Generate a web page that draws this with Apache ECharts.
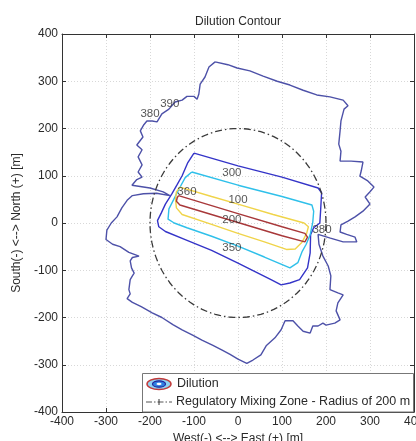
<!DOCTYPE html>
<html>
<head>
<meta charset="utf-8">
<title>Dilution Contour</title>
<script src="https://cdn.jsdelivr.net/npm/echarts@6/dist/echarts.min.js"></script>
<style>
  html, body { margin: 0; padding: 0; background: #fff; overflow: hidden; }
  #chart { width: 416px; height: 441px; }
</style>
</head>
<body>
<div id="chart"></div>
<script>
// Axis ticks (metres from the outfall)
const axisTicks = [-400, -300, -200, -100, 0, 100, 200, 300, 400];

// Dilution contour lines, [east, north] in metres
const contour390 = [
  [-52,341],[-23,335],[-2,328],[27,322],[57,311],[89,300],[118,292],[148,281],[179,271],[209,267],[239,260],[250,248],
  [241,241],[234,216],[232,195],[229,167],[234,152],[232,131],[257,131],[284,129],[280,110],[277,99],[295,89],[309,76],
  [300,66],[289,55],[300,40],[284,25],[266,13],[250,4],[234,-4],[232,-19],[247,-24],[266,-30],[270,-40],[239,-40],
  [210,-32],[182,-24],[184,-45],[193,-70],[205,-91],[211,-112],[209,-141],[227,-148],[239,-152],[227,-169],[223,-186],
  [232,-205],[220,-212],[200,-216],[193,-212],[182,-218],[170,-218],[164,-233],[148,-229],[136,-218],[125,-207],
  [107,-207],[98,-226],[84,-243],[64,-260],[52,-279],[34,-290],[20,-297],[0,-288],[-18,-278],[-36,-269],[-57,-259],
  [-82,-248],[-102,-238],[-127,-226],[-148,-215],[-173,-200],[-195,-190],[-220,-177],[-240,-168],[-252,-160],
  [-245,-150],[-248,-141],[-245,-120],[-240,-112],[-236,-106],[-242,-95],[-245,-80],[-240,-73],[-225,-70],[-248,-62],
  [-268,-50],[-285,-45],[-300,-35],[-298,-15],[-288,0],[-275,13],[-264,32],[-252,48],[-240,58],[-215,62],[-185,63],
  [-155,58],[-170,66],[-200,74],[-241,80],[-230,92],[-218,97],[-227,108],[-218,123],[-227,140],[-218,155],[-230,165],
  [-216,182],[-222,195],[-214,208],[-207,216],[-195,216],[-184,214],[-173,231],[-157,241],[-143,256],[-127,260],
  [-116,268],[-100,268],[-93,262],[-89,273],[-86,294],[-75,309],[-66,330],[-52,341]
];
const contour350 = [
  [-100,148],[0,121],[100,97],[182,74],[190,64],[188,30],[186,0],[172,-10],[165,-25],[164,-63],[158,-95],[140,-120],
  [118,-127],[98,-131],[75,-120],[0,-85],[-60,-58],[-120,-35],[-165,-18],[-180,-8],[-183,5],[-174,22],[-165,40],
  [-150,62],[-139,80],[-127,100],[-114,128],[-100,148]
];
const contour300 = [
  [-105,108],[0,80],[100,56],[168,38],[172,25],[170,2],[164,-25],[155,-45],[146,-60],[136,-84],[118,-95],[60,-72],
  [0,-49],[-60,-28],[-116,-10],[-145,0],[-159,8],[-157,30],[-146,50],[-134,72],[-120,96],[-105,108]
];
const contour200 = [
  [-132,76],[-60,56],[0,40],[80,18],[150,0],[160,-8],[156,-22],[146,-40],[130,-55],[110,-56],[60,-40],[0,-22],
  [-60,-3],[-127,18],[-140,32],[-142,50],[-140,66],[-132,76]
];
const contour100 = [
  [-135,58],[0,20],[100,-8],[152,-22],[158,-30],[152,-40],[100,-27],[0,1],[-132,38],[-140,46],[-138,54],[-135,58]
];

// Contour level labels, [east, north, text]
const contourLabels = [
  [-200,231,'380'],[-155,252,'390'],[-14,106,'300'],[0,49,'100'],[-14,6,'200'],
  [-14,-53,'350'],[-116,66,'360'],[191,-15,'380']
];

// Regulatory mixing zone
const mixingZoneRadius = 200;
const mixingZone = [];
for (let d = 0; d <= 360; d += 3) {
  const a = d * Math.PI / 180;
  mixingZone.push([mixingZoneRadius * Math.cos(a), mixingZoneRadius * Math.sin(a)]);
}

const FONT = 'Liberation Sans, Arial, sans-serif';
const TXT = '#2a2a2a';

function contourSeries(data, color, width) {
  return {
    type: 'line', name: 'Dilution', data: data, symbol: 'none', silent: true,
    lineStyle: { color: color, width: width }, z: 3
  };
}

const chart = echarts.init(document.getElementById('chart'), null, { renderer: 'canvas' });

const baseAxis = {
  type: 'value', min: -400, max: 400, interval: 100,
  axisLine: { show: true, onZero: false, lineStyle: { color: '#333', width: 1 } },
  axisTick: { show: true, inside: true, length: 4, lineStyle: { color: '#333' } },
  splitLine: { show: true, lineStyle: { color: '#d8d8d8', type: [1, 2], width: 1 } }
};

chart.setOption({
  animation: false,
  backgroundColor: '#fff',
  title: {
    text: 'Dilution Contour', left: 238, top: 16, textAlign: 'center', padding: 0,
    textStyle: { fontFamily: FONT, fontSize: 12, fontWeight: 'normal', color: TXT }
  },
  grid: { left: 62, right: 2, top: 34, bottom: 29, containLabel: false, outerBoundsMode: 'none' },
  xAxis: [
    Object.assign({}, baseAxis, {
      position: 'bottom',
      name: 'West(-) <--> East (+) [m]', nameLocation: 'middle', nameGap: 15,
      nameTextStyle: { fontFamily: FONT, fontSize: 12, color: TXT },
      axisLabel: { margin: 4, fontFamily: FONT, fontSize: 12, color: TXT,
        formatter: v => axisTicks.includes(v) ? String(v) : '' }
    }),
    Object.assign({}, baseAxis, {
      position: 'top', axisLabel: { show: false }, splitLine: { show: false }
    })
  ],
  yAxis: [
    Object.assign({}, baseAxis, {
      position: 'left',
      name: 'South(-) <--> North (+) [m]', nameLocation: 'middle', nameGap: 34, nameRotate: 90,
      nameTextStyle: { fontFamily: FONT, fontSize: 12, color: TXT },
      axisLabel: { margin: 4, fontFamily: FONT, fontSize: 12, color: TXT,
        formatter: v => axisTicks.includes(v) ? String(v) : '' }
    }),
    Object.assign({}, baseAxis, {
      position: 'right', axisLabel: { show: false }, splitLine: { show: false }
    })
  ],
  series: [
    contourSeries(contour390, '#4d51a8', 1.4),
    contourSeries(contour350, '#3434c8', 1.4),
    contourSeries(contour300, '#2fc0ea', 1.4),
    contourSeries(contour200, '#f0d44a', 1.4),
    contourSeries(contour100, '#a8383a', 1.4),
    {
      type: 'line', name: 'Regulatory Mixing Zone - Radius of 200 m', data: mixingZone,
      symbol: 'none', silent: true, z: 4,
      lineStyle: { color: '#3a3a3a', width: 1.3, type: [7, 3, 1.5, 3] }
    },
    {
      type: 'scatter', name: 'labels', data: contourLabels, symbolSize: 0, silent: true, z: 6,
      label: {
        show: true, position: 'inside', formatter: p => p.data[2],
        fontFamily: FONT, fontSize: 11.5, color: TXT
      }
    }
  ],
  graphic: [
    { type: 'rect', z: 100, shape: { x: 142.5, y: 373.5, width: 271, height: 38.5 },
      style: { fill: '#fff', stroke: '#777', lineWidth: 1 } },
    { type: 'ellipse', z: 101, shape: { cx: 159, cy: 384, rx: 12, ry: 5.5 },
      style: { fill: '#8fd3f2', stroke: '#c23a3a', lineWidth: 1.5 } },
    { type: 'ellipse', z: 102, shape: { cx: 159, cy: 384, rx: 6.5, ry: 3.2 },
      style: { fill: '#2f7fe0', stroke: '#23239a', lineWidth: 1.2 } },
    { type: 'ellipse', z: 103, shape: { cx: 159, cy: 384, rx: 2.5, ry: 1.2 },
      style: { fill: '#ffffff' } },
    { type: 'text', z: 101, x: 177, y: 384,
      style: { text: 'Dilution', fontFamily: FONT, fontSize: 12.5, fill: TXT, verticalAlign: 'middle' } },
    { type: 'line', z: 101, shape: { x1: 146, y1: 402, x2: 172, y2: 402 },
      style: { stroke: '#555', lineWidth: 1, lineDash: [6, 2, 1.5, 2] } },
    { type: 'line', z: 101, shape: { x1: 159, y1: 399, x2: 159, y2: 405 },
      style: { stroke: '#333', lineWidth: 1 } },
    { type: 'text', z: 101, x: 176, y: 402,
      style: { text: 'Regulatory Mixing Zone - Radius of 200 m', fontFamily: FONT, fontSize: 12.5, fill: TXT, verticalAlign: 'middle' } }
  ]
});
</script>
</body>
</html>
